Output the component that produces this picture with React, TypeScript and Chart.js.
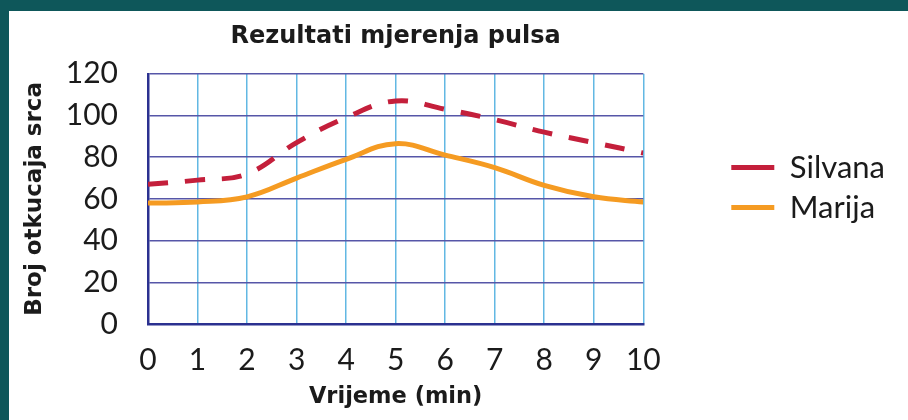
import React, { useEffect, useRef } from "react";
import { Chart, registerables } from "chart.js";

Chart.register(...registerables);

const minutes = [0, 1, 2, 3, 4, 5, 6, 7, 8, 9, 10];
const silvana = [67, 69, 72, 87, 99, 107, 103, 98, 92, 87, 82];
const marija = [58, 58.5, 61, 70, 79, 86.5, 81, 75, 66.5, 61, 58.5];
const seriesNames = ["Silvana", "Marija"];
const chartTitle = "Rezultati mjerenja pulsa";
const xTitle = "Vrijeme (min)";
const yTitle = "Broj otkucaja srca";

const TEXT = "#1b1b1b";
const BOLD_FAMILY = "'DejaVu Sans', sans-serif";
const LIGHT_FAMILY = "Lato, sans-serif";

export default function App() {
  const ref = useRef<HTMLCanvasElement>(null);

  useEffect(() => {
    const canvas = ref.current;
    if (!canvas) return;
    const chart = new Chart(canvas, {
      type: "line",
      data: {
        datasets: [
          {
            label: seriesNames[0],
            data: minutes.map((m, i) => ({ x: m, y: silvana[i] })),
            borderColor: "#c41f3b",
            backgroundColor: "#c41f3b",
            borderWidth: 5,
            borderDash: [20, 17],
            pointRadius: 0,
            pointStyle: "line",
            tension: 0.4,
            fill: false,
          },
          {
            label: seriesNames[1],
            data: minutes.map((m, i) => ({ x: m, y: marija[i] })),
            borderColor: "#f59b22",
            backgroundColor: "#f59b22",
            borderWidth: 5,
            pointRadius: 0,
            pointStyle: "line",
            tension: 0.4,
            fill: false,
          },
        ],
      },
      options: {
        responsive: false,
        animation: false,
        layout: { padding: { left: 0, top: 0, bottom: 0, right: 13 } },
        plugins: {
          title: {
            display: true,
            text: chartTitle,
            fullSize: false,
            color: TEXT,
            font: { family: BOLD_FAMILY, size: 24, weight: "700" },
            padding: { top: 11, bottom: 23 },
          },
          legend: {
            position: "right",
            align: "start",
            maxWidth: 400,
            title: {
              display: true,
              text: " ",
              font: { size: 10 },
              padding: { top: 0, bottom: 120 },
            },
            labels: {
              usePointStyle: true,
              pointStyleWidth: 43,
              boxWidth: 43,
              padding: 9,
              color: TEXT,
              font: { family: LIGHT_FAMILY, size: 31, weight: "400" },
              generateLabels: (c: any) =>
                Chart.defaults.plugins.legend.labels
                  .generateLabels(c)
                  .map((l: any) => ({
                    ...l,
                    lineDash: l.lineDash && l.lineDash.length ? [18, 7] : l.lineDash,
                  })),
            },
          },
          tooltip: { enabled: false },
        },
        scales: {
          x: {
            type: "linear",
            min: 0,
            max: 10,
            ticks: {
              stepSize: 1,
              padding: 18,
              color: TEXT,
              font: { family: LIGHT_FAMILY, size: 30, weight: "400" },
            },
            grid: { color: "#62b8e3", lineWidth: 1.5, drawTicks: false },
            border: { color: "#2b3190", width: 2.5 },
            title: {
              display: true,
              text: xTitle,
              color: TEXT,
              font: { family: BOLD_FAMILY, size: 22.5, weight: "700" },
              padding: { top: 9, bottom: 9 },
            },
            afterFit: (s: any) => {
              s.height = 96;
            },
          },
          y: {
            type: "linear",
            min: 0,
            max: 120,
            ticks: {
              stepSize: 20,
              padding: 30,
              color: TEXT,
              font: { family: LIGHT_FAMILY, size: 30, weight: "400" },
            },
            grid: { color: "#5656a8", lineWidth: 1.5, drawTicks: false },
            border: { color: "#2b3190", width: 2.5 },
            title: {
              display: true,
              text: yTitle,
              color: TEXT,
              font: { family: BOLD_FAMILY, size: 23, weight: "700" },
              padding: { top: 12, bottom: 10 },
            },
            afterFit: (s: any) => {
              s.width = 139;
            },
          },
          spacer: {
            type: "linear",
            position: "right",
            display: true,
            grid: { display: false },
            border: { display: false },
            ticks: { display: false },
            afterFit: (s: any) => {
              s.width = 79;
            },
          },
        },
      } as any,
    });
    return () => chart.destroy();
  }, []);

  return (
    <div
      style={{
        position: "absolute",
        left: 0,
        top: 0,
        width: 908,
        height: 420,
        background: "#0e575a",
        overflow: "hidden",
      }}
    >
      <div
        style={{
          position: "absolute",
          left: 9,
          top: 11,
          width: 899,
          height: 409,
          background: "#ffffff",
        }}
      >
        <canvas ref={ref} width={899} height={409} style={{ display: "block" }} />
      </div>
    </div>
  );
}
